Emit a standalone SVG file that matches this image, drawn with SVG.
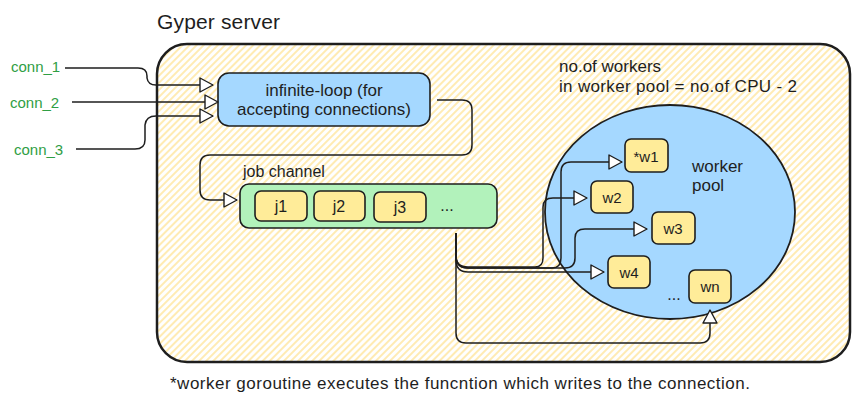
<svg xmlns="http://www.w3.org/2000/svg" width="860" height="405" viewBox="0 0 860 405">
<defs>
<pattern id="hatch" patternUnits="userSpaceOnUse" width="5" height="10" patternTransform="rotate(45)">
<line x1="1" y1="0" x2="1" y2="10" stroke="#ffe08a" stroke-width="1.3"/>
</pattern>
<marker id="arr" markerUnits="userSpaceOnUse" markerWidth="16" markerHeight="16" refX="13" refY="7" orient="auto" viewBox="-1 -1 16 16">
<path d="M0,0 L13,7 L0,14 Z" fill="#ffffff" stroke="#1e1e1e" stroke-width="1.4" stroke-linejoin="round"/>
</marker>
<style>
text{font-family:"Liberation Sans",Arial,sans-serif;fill:#1e1e1e;}
.conn{fill:#2f9e44;font-size:15px;}
.box{stroke:#1e1e1e;stroke-width:1.6;}
.job{fill:#ffec99;}
.wk{fill:#ffec99;}
.lbl{text-anchor:middle;dominant-baseline:central;}
.j{font-size:16px;}
.w{font-size:15px;}
.big{font-size:17px;}
.edge{fill:none;stroke:#1e1e1e;stroke-width:1.5;stroke-linejoin:round;marker-end:url(#arr);}
</style>
</defs>
<rect width="860" height="405" fill="#ffffff"/>

<g id="server">
<rect x="157" y="44" width="693" height="318" rx="30" fill="#ffffff"/>
<rect x="157" y="44" width="693" height="318" rx="30" fill="url(#hatch)" stroke="#1e1e1e" stroke-width="2.5"/>
<text x="157" y="29" font-size="21" textLength="123" lengthAdjust="spacing">Gyper server</text>
</g>

<g id="conn_1"><text class="conn" x="11" y="72">conn_1</text></g>
<g id="conn_2"><text class="conn" x="10" y="108">conn_2</text></g>
<g id="conn_3"><text class="conn" x="14" y="155">conn_3</text></g>

<g id="infinite-loop">
<rect class="box" x="218" y="73" width="212" height="53" rx="11" fill="#a5d8ff"/>
<text class="lbl big" x="324" y="90">infinite-loop (for</text>
<text class="lbl big" x="324" y="109">accepting connections)</text>
</g>

<g id="job-channel">
<text x="243" y="177" font-size="16">job channel</text>
<rect class="box" x="240" y="184" width="257" height="44" rx="9" fill="#b2f2bb"/>
</g>
<g id="j1"><rect class="box job" x="255" y="191" width="52" height="30" rx="6"/><text class="lbl j" x="281" y="206">j1</text></g>
<g id="j2"><rect class="box job" x="314" y="191" width="51" height="30" rx="6"/><text class="lbl j" x="339" y="206">j2</text></g>
<g id="j3"><rect class="box job" x="374" y="192" width="52" height="30" rx="6"/><text class="lbl j" x="400" y="207">j3</text></g>
<g id="job-more"><text class="lbl j" x="447" y="205">...</text></g>

<g id="worker-pool">
<ellipse cx="670" cy="212" rx="125" ry="107" fill="#a5d8ff" stroke="#1e1e1e" stroke-width="1.8"/>
<text x="692" y="172" font-size="17">worker</text>
<text x="692" y="191" font-size="17">pool</text>
</g>
<g id="pool-note">
<text x="559" y="72" font-size="17">no.of workers</text>
<text x="559" y="92" font-size="17" textLength="238" lengthAdjust="spacing">in worker pool = no.of CPU - 2</text>
</g>

<g id="w1"><rect class="box wk" x="625" y="139" width="43" height="33" rx="6"/><text class="lbl w" x="646" y="156">*w1</text></g>
<g id="w2"><rect class="box wk" x="591" y="181" width="42" height="32" rx="6"/><text class="lbl w" x="612" y="197">w2</text></g>
<g id="w3"><rect class="box wk" x="652" y="212" width="43" height="32" rx="6"/><text class="lbl w" x="673" y="228">w3</text></g>
<g id="w4"><rect class="box wk" x="608" y="256" width="42" height="32" rx="6"/><text class="lbl w" x="629" y="272">w4</text></g>
<g id="wn"><rect class="box wk" x="689" y="270" width="42" height="33" rx="6"/><text class="lbl w" x="710" y="286">wn</text></g>
<g id="w-more"><text class="lbl j" x="674" y="294">...</text></g>

<g id="connectors">
<path class="edge" d="M 65 68 L 138 68 Q 147 68 147 76 L 147 78 Q 148 85 156 85 L 213 85"/>
<path class="edge" d="M 72 102 L 218 102"/>
<path class="edge" d="M 76 149 L 135 149 Q 145 149 145 140 L 145 125 Q 146 116 156 116 L 213 116"/>
<path class="edge" d="M 437 100 L 462 100 Q 472 100 472 110 L 472 145 Q 472 155 462 155 L 210 155 Q 200 155 200 165 L 200 190 Q 200 200 210 200 L 237 200"/>
<path class="edge" d="M 456 233 L 456 256 Q 456 268 468 268 L 552 268 Q 561 268 561 258 L 561 172 Q 561 162 571 162 L 622 162"/>
<path class="edge" d="M 456 233 L 456 256 Q 456 267 468 267 L 535 267 Q 543 267 543 258 L 543 207 Q 543 198 553 198 L 587 198"/>
<path class="edge" d="M 456 233 L 456 256 Q 456 268 468 268 L 565 268 Q 575 268 575 258 L 575 238 Q 575 229 585 229 L 647 229"/>
<path class="edge" d="M 456 233 L 456 260 Q 456 272 468 272 L 604 272"/>
<path class="edge" d="M 456 233 L 456 333 Q 456 343 466 343 L 700 343 Q 710 343 710 333 L 710 310"/>
</g>

<g id="footnote">
<text x="170" y="389" font-size="17" textLength="580" lengthAdjust="spacing">*worker goroutine executes the funcntion which writes to the connection.</text>
</g>
</svg>
